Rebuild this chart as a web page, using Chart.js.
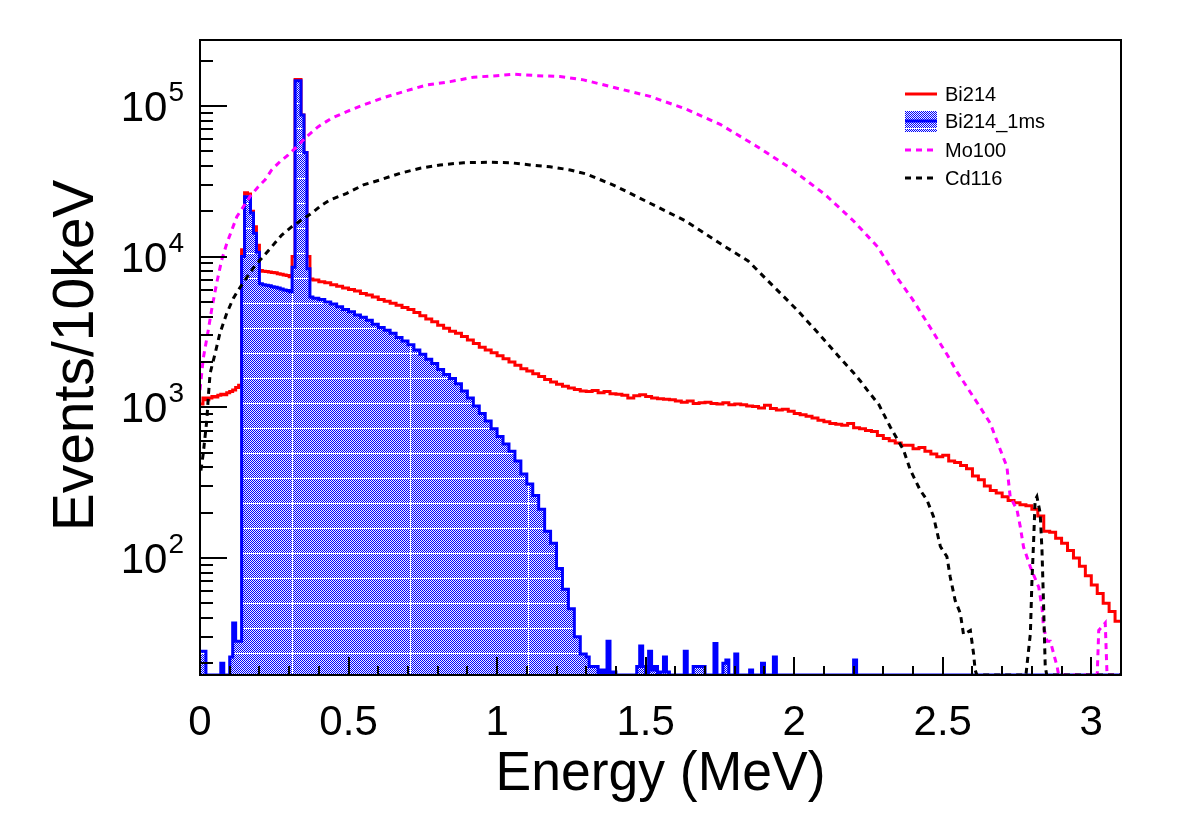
<!DOCTYPE html>
<html>
<head>
<meta charset="utf-8">
<script src="https://cdn.jsdelivr.net/npm/chart.js@4.4.1/dist/chart.umd.min.js"></script>
<style>
html,body{margin:0;padding:0;background:#ffffff;}
canvas{display:block;}
</style>
</head>
<body>
<canvas id="c" width="1182" height="813"></canvas>
<script>
// ---------------- data ----------------
const xTickValues = [0, 0.5, 1, 1.5, 2, 2.5, 3];
const xTickLabels = ['0', '0.5', '1', '1.5', '2', '2.5', '3'];
const yTickExponents = [2, 3, 4, 5];
const xTitle = 'Energy (MeV)';
const yTitle = 'Events/10keV';
const Y_MIN = 16.7, Y_MAX = 2.74e5, X_MIN = 0, X_MAX = 3.1;

// Bi214: 10 keV bins 0.00-0.37 MeV, then 20 keV bins 0.38-3.10 MeV
const bi214Fine = [1050,1150,1120,1150,1180,1170,1200,1220,1210,1250,1270,1300,1350,1400,
  11100,26500,26000,20000,15800,11900,8100,8000,7950,7900,7850,7800,7700,7650,7550,7500,7350,
  10000,150000,150000,87000,49000,10000,7100];
const bi214Coarse = [7000,6800,6700,6500,6350,6200,6050,5900,5700,5550,
  5400,5200,5050,4900,4750,4600,4450,4250,4050,3850,
  3700,3500,3350,3200,3100,2950,2800,2650,2500,2400,
  2300,2200,2100,2000,1900,1800,1740,1670,1600,1530,
  1470,1420,1380,1340,1310,1280,1270,1290,1250,1270,
  1230,1220,1200,1150,1190,1210,1180,1150,1140,1130,
  1120,1100,1080,1100,1060,1070,1080,1060,1050,1070,
  1040,1050,1040,1020,1010,990,1030,980,960,970,
  940,910,890,870,850,820,800,780,770,760,
  780,730,720,700,690,650,620,600,580,560,
  560,530,540,510,490,470,480,440,430,410,
  390,350,330,300,280,270,255,240,232,225,
  222,210,190,150,148,135,125,112,100,88,
  76,66,58,50,44,38];

// Bi214_1ms: 10 keV bins 0.00-0.37, 20 keV bins 0.38-1.28, then sparse tail bins
const bi214msFine = [24,24,16.7,16.7,16.7,16.7,16.7,20,16.7,16.7,22,37,28,28,
  10000,25000,25000,19500,14300,10700,6600,6500,6450,6400,6300,6250,6200,6100,6000,5950,5850,
  8500,147000,147000,87000,49000,8300,5400];
const bi214msCoarse = [5300,5200,5000,4850,4650,4450,4300,4100,3950,3780,
  3550,3380,3250,3100,2900,2750,2600,2400,2250,2080,
  1950,1780,1650,1550,1430,1280,1150,1020,910,810,
  720,640,570,510,440,360,310,260,210,150,
  125,85,62,46,30,23];
const bi214msTailE = [1.30,1.31,1.32,1.33,1.34,1.35,1.36,1.37,1.38,1.39,
  1.40,1.47,1.48,1.49,1.50,1.51,1.52,1.53,1.54,1.55,
  1.56,1.57,1.58,1.63,1.64,1.66,1.70,1.73,1.74,1.76,
  1.77,1.78,1.80,1.81,1.85,1.86,1.89,1.90,1.93,1.94,
  2.20,2.21];
const bi214msTailV = [22,19,19,19,16.7,18,16.7,28,16.7,17.5,
  16.7,19,26,19,16.7,24,18,19,16.7,17.5,
  22,17.5,16.7,24,16.7,19,16.7,27,16.7,20,
  21,16.7,23,16.7,18,16.7,20,16.7,22,16.7,
  21,16.7];

// Mo100 (dashed magenta)
const mo100E = [0.0,0.011,0.028,0.039,0.056,0.073,0.090,0.107,0.124,0.168,0.196,0.219,0.241,0.269,0.297,
  0.326,0.359,0.398,0.443,0.494,0.550,0.612,0.685,0.763,0.842,0.920,0.999,1.055,1.134,1.212,
  1.291,1.397,1.515,1.633,1.751,1.869,1.987,2.104,2.199,2.281,2.340,2.399,2.458,2.517,2.547,
  2.621,2.660,2.694,2.716,2.727,2.750,2.761,2.772,2.795,2.823,2.834,2.839,2.851,2.862,2.885,
  2.89,3.02,3.025,3.047,3.053,3.1];
const mo100V = [1300,2110,3260,4420,6650,9490,12200,15000,18400,25000,29100,32300,37600,42700,47300,
  53700,62600,72900,82900,91700,101600,112500,124500,137800,145000,155100,158900,162300,158900,156600,
  149000,132100,115700,95800,75400,54700,38600,25800,17300,11600,7550,5180,3380,2200,1730,
  1035,782,520,403,255,208,161,118,87,64,47,35,28,28,19,
  16.7,16.7,33,37,16.7,16.7];

// Cd116 (dashed black)
const cd116E = [0.003,0.011,0.023,0.028,0.034,0.051,0.067,0.090,0.112,0.129,0.152,0.179,0.202,0.241,0.275,
  0.309,0.342,0.376,0.410,0.438,0.494,0.550,0.606,0.673,0.741,0.808,0.887,0.976,1.044,1.111,
  1.178,1.246,1.302,1.397,1.515,1.633,1.751,1.845,1.928,2.010,2.081,2.152,2.199,2.222,2.246,
  2.285,2.323,2.368,2.391,2.424,2.447,2.469,2.492,2.514,2.525,2.542,2.559,2.570,2.593,2.604,
  2.609,2.615,2.78,2.783,2.795,2.800,2.806,2.811,2.817,2.828,2.834,2.839,2.845,2.85,3.1];
const cd116V = [380,494,822,1175,1680,2280,3100,4200,5280,6000,7000,8370,9490,11600,13900,
  15800,17500,19400,22000,23800,26300,29900,32300,35700,38600,40600,42000,42300,42000,40600,
  39500,37600,35300,29500,22600,17300,12200,9360,6410,4420,3100,2150,1700,1500,1300,
  1040,743,520,383,282,242,188,119,102,75,52,43,31,33,23,
  18,16.7,16.7,19,31.5,68,131,242,255,198,113,52,19,16.7,16.7];

// ---------------- build points ----------------
function histPoints(fine, coarse, tailE, tailV, end) {
  const pts = [];
  fine.forEach((v, i) => pts.push({x: +(i * 0.01).toFixed(3), y: v}));
  const c0 = fine.length * 0.01;
  coarse.forEach((v, i) => pts.push({x: +(c0 + i * 0.02).toFixed(3), y: v}));
  if (tailE) tailE.forEach((e, i) => pts.push({x: e, y: tailV[i]}));
  pts.push({x: end, y: pts[pts.length - 1].y});
  return pts;
}
function curvePoints(E, V) { return E.map((e, i) => ({x: e, y: V[i]})); }

const canvas = document.getElementById('c');
const ctx = canvas.getContext('2d');

function makePattern() {
  const W = 118, H = 50;
  const t = document.createElement('canvas');
  t.width = W; t.height = H;
  const g = t.getContext('2d');
  g.fillStyle = '#f0f0ff'; g.fillRect(0, 0, W, H);
  g.fillStyle = '#0000ff';
  for (let j = 0; j < H; j++)
    for (let i = 0; i < W; i++)
      if ((i + j) % 2 === 0) g.fillRect(i, j, 1, 1);
  g.fillStyle = '#ffffff';
  g.fillRect(0, 3, W, 1);
  g.fillRect(0, 28, W, 1);
  g.fillRect(56, 0, 1, H);
  return ctx.createPattern(t, 'repeat');
}
const hatch = makePattern();

const FONT = '"Liberation Sans", Arial, Helvetica, sans-serif';

const rootAxes = {
  id: 'rootAxes',
  afterDraw(chart) {
    const c = chart.ctx, a = chart.chartArea, xs = chart.scales.x, ys = chart.scales.y;
    c.save();
    c.strokeStyle = '#000'; c.lineWidth = 2; c.lineCap = 'butt';
    const seg = (x1, y1, x2, y2) => { c.beginPath(); c.moveTo(x1, y1); c.lineTo(x2, y2); c.stroke(); };
    // x ticks (inward)
    for (let k = 0; k <= 31; k++) {
      const px = Math.round(xs.getPixelForValue(k / 10));
      seg(px, a.bottom, px, a.bottom - (k % 5 === 0 ? 18 : 9));
    }
    // y ticks (inward)
    for (let d = 1; d <= 5; d++) for (let m = 1; m <= 9; m++) {
      const v = m * Math.pow(10, d);
      if (v < ys.min || v > ys.max) continue;
      const py = Math.round(ys.getPixelForValue(v));
      seg(a.left, py, a.left + (m === 1 ? 27 : 13), py);
    }
    // frame
    c.strokeRect(a.left, a.top, a.right - a.left, a.bottom - a.top);

    c.fillStyle = '#000';
    // x tick labels
    c.font = '42px ' + FONT; c.textAlign = 'center'; c.textBaseline = 'alphabetic';
    xTickValues.forEach((v, i) => c.fillText(xTickLabels[i], xs.getPixelForValue(v), 735));
    // y tick labels 10^n
    c.textAlign = 'right';
    yTickExponents.forEach(n => {
      const py = ys.getPixelForValue(Math.pow(10, n));
      c.font = '28px ' + FONT;
      const ew = c.measureText(String(n)).width;
      c.fillText(String(n), 184, py - 5);
      c.font = '42px ' + FONT;
      c.fillText('10', 184 - ew - 1, py + 15);
    });
    // axis titles
    c.font = '56px ' + FONT; c.textAlign = 'center';
    c.save();
    c.translate((a.left + a.right) / 2, 790);
    c.scale(0.955, 1);
    c.fillText(xTitle, 0, 0);
    c.restore();
    c.save();
    c.translate(93, (a.top + a.bottom) / 2 - 2);
    c.rotate(-Math.PI / 2);
    c.font = '57px ' + FONT;
    c.fillText(yTitle, 0, 0);
    c.restore();

    // legend
    const rows = [94, 121, 150, 178];
    c.font = '20px ' + FONT; c.textAlign = 'left'; c.textBaseline = 'middle';
    chart.data.datasets.forEach((ds, i) => {
      const y = rows[i];
      if (ds.fill) {
        c.fillStyle = ds.backgroundColor;
        c.fillRect(905, y - 10, 32, 21);
      }
      c.strokeStyle = ds.borderColor; c.lineWidth = 3;
      c.setLineDash(ds.borderDash || []);
      seg(905, y, 937, y);
      c.setLineDash([]);
      c.fillStyle = '#000';
      c.fillText(ds.label, 945, y + 1);
    });
    c.restore();
  }
};

new Chart(ctx, {
  type: 'line',
  data: {
    datasets: [
      {label: 'Bi214', data: histPoints(bi214Fine, bi214Coarse, null, null, X_MAX),
       borderColor: '#ff0000', borderWidth: 3, stepped: true, pointRadius: 0, fill: false, order: 4},
      {label: 'Bi214_1ms', data: histPoints(bi214msFine, bi214msCoarse, bi214msTailE, bi214msTailV, X_MAX),
       borderColor: '#0000ff', borderWidth: 3, stepped: true, pointRadius: 0, fill: 'start',
       backgroundColor: hatch, order: 3},
      {label: 'Mo100', data: curvePoints(mo100E, mo100V),
       borderColor: '#ff00ff', borderWidth: 3, borderDash: [6, 5], pointRadius: 0, fill: false, tension: 0, order: 2},
      {label: 'Cd116', data: curvePoints(cd116E, cd116V),
       borderColor: '#000000', borderWidth: 3, borderDash: [6, 5], pointRadius: 0, fill: false, tension: 0, order: 1}
    ]
  },
  options: {
    responsive: false, animation: false, devicePixelRatio: 1,
    layout: {padding: {left: 0, top: 40, right: 61, bottom: 0}},
    plugins: {legend: {display: false}, tooltip: {enabled: false}},
    scales: {
      x: {type: 'linear', min: X_MIN, max: X_MAX,
          ticks: {display: false}, grid: {display: false}, border: {display: false},
          afterFit(s) { s.height = 138; }},
      y: {type: 'logarithmic', min: Y_MIN, max: Y_MAX,
          ticks: {display: false}, grid: {display: false}, border: {display: false},
          afterFit(s) { s.width = 200; }}
    }
  },
  plugins: [rootAxes]
});
</script>
</body>
</html>
